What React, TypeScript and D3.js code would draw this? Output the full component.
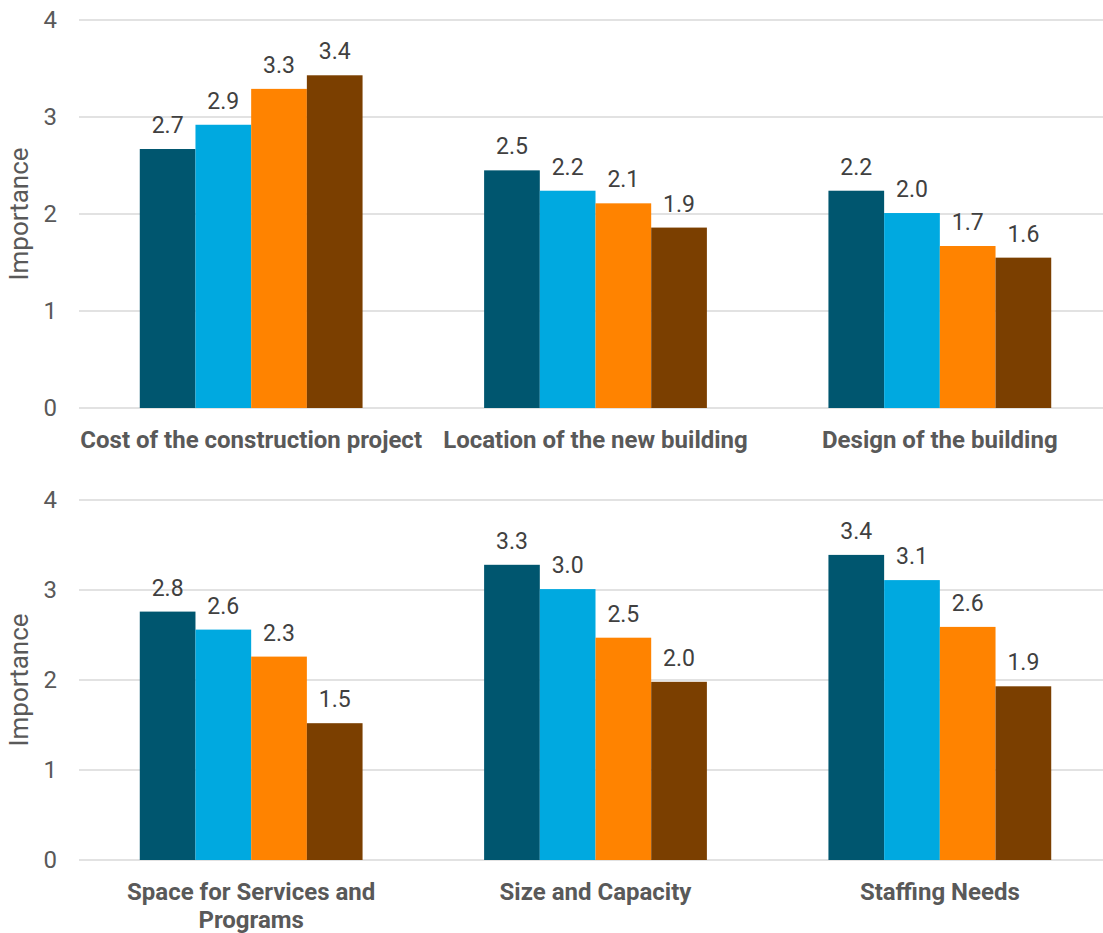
import React from "react";
import * as d3 from "d3";

const topCategories = ["Cost of the construction project", "Location of the new building", "Design of the building"];
const bottomCategories = ["Space for Services and|Programs", "Size and Capacity", "Staffing Needs"];
const seriesKeys = ["s1", "s2", "s3", "s4"];
const seriesColors = ["#00566F", "#00A9E0", "#FF8300", "#7B3F00"];
const topValues = [
  [2.67, 2.92, 3.29, 3.43],
  [2.45, 2.24, 2.11, 1.86],
  [2.24, 2.01, 1.67, 1.55],
];
const bottomValues = [
  [2.76, 2.56, 2.26, 1.52],
  [3.28, 3.01, 2.47, 1.98],
  [3.39, 3.11, 2.59, 1.93],
];
const yTicks = [0, 1, 2, 3, 4];
const yTitle = "Importance";

const W = 1103;
const H = 933;
const FONT = "Roboto, 'Noto Sans', sans-serif";

function Panel({ cats, vals, y0, y4 }: { cats: string[]; vals: number[][]; y0: number; y4: number }) {
  const x0 = d3.scaleBand<string>().domain(cats).range([79, 1112]).paddingInner(0).paddingOuter(0);
  const bw = x0.bandwidth();
  const groupW = bw * 0.647;
  const x1 = d3.scaleBand<string>().domain(seriesKeys).range([0, groupW]).padding(0);
  const y = d3.scaleLinear().domain([0, 4]).range([y0, y4]);
  return (
    <g>
      {yTicks.map((t) => (
        <g key={t}>
          <line x1={79} x2={W} y1={y(t)} y2={y(t)} stroke="#D9D9D9" strokeWidth={1.5} />
          <text x={57} y={y(t)} dy="0.35em" textAnchor="end" fontSize={24} fill="#595959" fontFamily={FONT}>
            {t}
          </text>
        </g>
      ))}
      <text
        transform={`translate(28,${(y0 + y4) / 2}) rotate(-90)`}
        textAnchor="middle"
        fontSize={26}
        fill="#595959"
        fontFamily={FONT}
      >
        {yTitle}
      </text>
      {cats.map((c, ci) => {
        const gx = (x0(c) as number) + (bw - groupW) / 2;
        return (
          <g key={c}>
            {vals[ci].map((v, si) => {
              const bx = gx + (x1(seriesKeys[si]) as number);
              return (
                <g key={si}>
                  <rect x={bx} y={y(v)} width={x1.bandwidth()} height={y0 - y(v)} fill={seriesColors[si]} />
                  <text
                    x={bx + x1.bandwidth() / 2}
                    y={y(v) - 16}
                    textAnchor="middle"
                    fontSize={23}
                    fill="#404040"
                    fontFamily={FONT}
                  >
                    {v.toFixed(1)}
                  </text>
                </g>
              );
            })}
            {c.split("|").map((line, li) => (
              <text
                key={li}
                x={(x0(c) as number) + bw / 2}
                y={y0 + 40 + li * 28}
                textAnchor="middle"
                fontSize={24}
                fontWeight="bold"
                fill="#595959"
                fontFamily={FONT}
              >
                {line}
              </text>
            ))}
          </g>
        );
      })}
    </g>
  );
}

export default function App() {
  return (
    <svg
      width={W}
      height={H}
      style={{ position: "absolute", left: 0, top: 0, background: "#fff" }}
    >
      <rect width={W} height={H} fill="#fff" />
      <Panel cats={topCategories} vals={topValues} y0={408} y4={20} />
      <Panel cats={bottomCategories} vals={bottomValues} y0={860} y4={500} />
    </svg>
  );
}
